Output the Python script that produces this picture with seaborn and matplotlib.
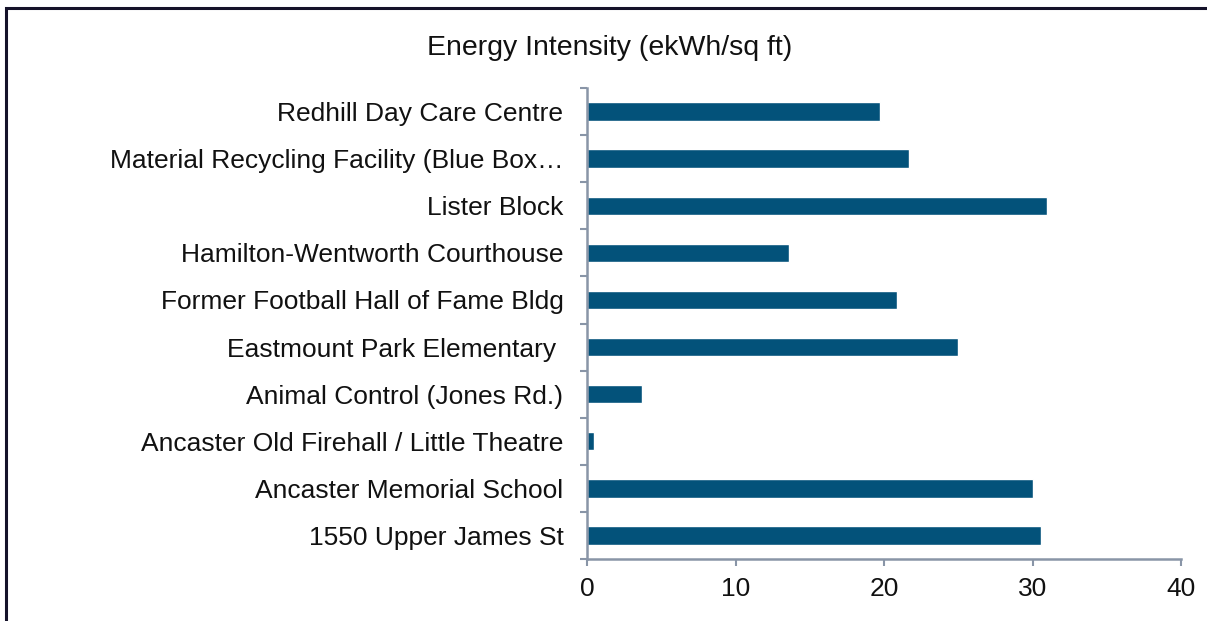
import pandas as pd
import seaborn as sns
import matplotlib.pyplot as plt
from matplotlib.patches import Rectangle

# data
buildings = [
    'Redhill Day Care Centre',
    'Material Recycling Facility (Blue Box\u2026',
    'Lister Block',
    'Hamilton-Wentworth Courthouse',
    'Former Football Hall of Fame Bldg',
    'Eastmount Park Elementary ',
    'Animal Control (Jones Rd.)',
    'Ancaster Old Firehall / Little Theatre',
    'Ancaster Memorial School',
    '1550 Upper James St',
]
intensity = [19.7, 21.7, 31.0, 13.6, 20.9, 25.0, 3.7, 0.5, 30.0, 30.6]
xticks = [0, 10, 20, 30, 40]

df = pd.DataFrame({'building': buildings, 'intensity': intensity})

sns.set_theme(style='white')
plt.rcParams['font.family'] = ['Liberation Sans', 'DejaVu Sans']

W, H = 1207, 621
fig = plt.figure(figsize=(W / 100, H / 100), dpi=100)
ax = fig.add_axes([587 / W, 1 - 559 / H, (1181 - 587) / W, (559 - 88) / H])

sns.barplot(data=df, y='building', x='intensity', orient='h', color='#03527A',
            saturation=1, width=0.39, ax=ax)

axis_col = '#8995A7'
ax.set_xlim(0, 40)
ax.set_ylim(len(buildings) - 0.5, -0.5)
ax.set_xticks(xticks)
ax.set_xticklabels([str(t) for t in xticks], fontsize=19, color='#111111')
ax.tick_params(axis='x', bottom=True, direction='out', length=5, width=1.5,
               color=axis_col, pad=8)

# y ticks at category boundaries, labels at centers
ax.set_yticks([i - 0.5 for i in range(len(buildings) + 1)], minor=False)
ax.set_yticklabels([])
ax.set_yticks(range(len(buildings)), minor=True)
ax.set_yticklabels(buildings, minor=True, fontsize=19, color='#111111')
ax.tick_params(axis='y', which='major', left=True, direction='out', length=5,
               width=1.5, color=axis_col)
ax.tick_params(axis='y', which='minor', left=True, length=0, pad=17)

ax.set_xlabel('')
ax.set_ylabel('')
for s in ['top', 'right']:
    ax.spines[s].set_visible(False)
for s in ['left', 'bottom']:
    ax.spines[s].set_color(axis_col)
    ax.spines[s].set_linewidth(1.8)

fig.text(610 / W, 1 - 48 / H, 'Energy Intensity (ekWh/sq ft)', ha='center', va='center',
         fontsize=20.5, color='#111111')

# outer chart border (only top and left fall inside the image)
fig.patches.append(Rectangle((6 / W, -0.1), 1.5, 1 - 8 / H + 0.1, transform=fig.transFigure,
                             fill=False, edgecolor='#15122A', linewidth=2.2))

fig.savefig('out.png', dpi=100)
